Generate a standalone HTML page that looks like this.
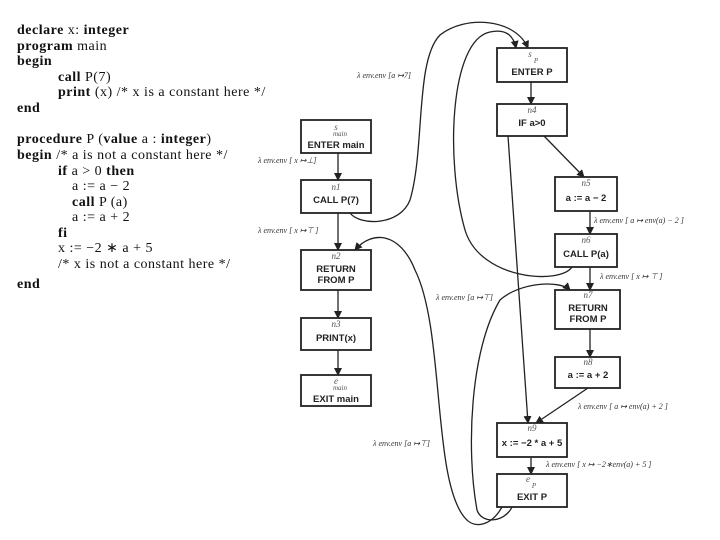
<!DOCTYPE html>
<html><head><meta charset="utf-8"><style>
html,body{margin:0;padding:0;background:#fff;}
svg{display:block}
.c{font-family:"Liberation Serif",serif;font-size:14px;letter-spacing:0.5px;fill:#111}
.b{font-weight:bold}
.n{font-family:"Liberation Sans",sans-serif;font-size:9.5px;font-weight:bold;fill:#222;text-anchor:middle}
.i{font-family:"Liberation Serif",serif;font-style:italic;font-size:9px;fill:#555;text-anchor:middle}
.l{font-family:"Liberation Serif",serif;font-size:8px;fill:#333}
rect{fill:#fff;stroke:#222;stroke-width:1.8}
.e{fill:none;stroke:#222;stroke-width:1.3}
</style></head><body>
<svg width="720" height="540" viewBox="0 0 720 540" xmlns="http://www.w3.org/2000/svg">
<defs><marker id="a" markerWidth="8" markerHeight="8" refX="7" refY="4" orient="auto" markerUnits="userSpaceOnUse"><path d="M0,0 L8,4 L0,8 z" fill="#222"/></marker></defs>
<g class="c">
<text x="17" y="34"><tspan class="b">declare</tspan> x: <tspan class="b">integer</tspan></text>
<text x="17" y="50"><tspan class="b">program</tspan> main</text>
<text x="17" y="65"><tspan class="b">begin</tspan></text>
<text x="58" y="81"><tspan class="b">call</tspan> P(7)</text>
<text x="58" y="96"><tspan class="b">print</tspan> (x) /* x is a constant here */</text>
<text x="17" y="112"><tspan class="b">end</tspan></text>
<text x="17" y="143"><tspan class="b">procedure</tspan> P (<tspan class="b">value</tspan> a : <tspan class="b">integer</tspan>)</text>
<text x="17" y="159"><tspan class="b">begin</tspan> /* a is not a constant here */</text>
<text x="58" y="175"><tspan class="b">if</tspan> a &gt; 0 <tspan class="b">then</tspan></text>
<text x="72" y="190">a := a − 2</text>
<text x="72" y="206"><tspan class="b">call</tspan> P (a)</text>
<text x="72" y="221">a := a + 2</text>
<text x="58" y="237"><tspan class="b">fi</tspan></text>
<text x="58" y="252">x := −2 ∗ a + 5</text>
<text x="58" y="268">/* x is not a constant here */</text>
<text x="17" y="288"><tspan class="b">end</tspan></text>
</g>
<g class="e">
<line x1="338" y1="153" x2="338" y2="180" marker-end="url(#a)"/>
<line x1="338" y1="213" x2="338" y2="250" marker-end="url(#a)"/>
<line x1="338" y1="290" x2="338" y2="318" marker-end="url(#a)"/>
<line x1="338" y1="350" x2="338" y2="375" marker-end="url(#a)"/>
<line x1="531" y1="82" x2="531" y2="104" marker-end="url(#a)"/>
<line x1="544" y1="136" x2="584" y2="177" marker-end="url(#a)"/>
<line x1="590" y1="211" x2="590" y2="234" marker-end="url(#a)"/>
<line x1="590" y1="267" x2="590" y2="290" marker-end="url(#a)"/>
<line x1="590" y1="329" x2="590" y2="357" marker-end="url(#a)"/>
<line x1="588" y1="388" x2="536" y2="423" marker-end="url(#a)"/>
<line x1="508" y1="136" x2="528" y2="423" marker-end="url(#a)"/>
<line x1="531" y1="457" x2="531" y2="474" marker-end="url(#a)"/>
<path d="M350,213 C360,226 400,226 410,200 C425,150 415,60 440,35 C465,15 515,18 528,48" marker-end="url(#a)"/>
<path d="M572,267 C560,285 480,280 465,230 C445,160 450,40 490,32 C508,28 514,38 516,48" marker-end="url(#a)"/>
<path d="M502,507 C492,525 475,530 465,518 C432,480 445,330 415,270 C400,232 372,230 355,250" marker-end="url(#a)"/>
<path d="M512,507 C505,522 482,525 477,510 C466,450 470,350 500,300 C520,282 560,280 570,290" marker-end="url(#a)"/>
</g>
<rect x="301" y="120" width="70" height="33"/><text class="i" x="336" y="130">s</text><text class="i" x="340" y="136" style="font-size:7px">main</text><text class="n" x="336" y="148">ENTER main</text>
<rect x="301" y="180" width="70" height="33"/><text class="i" x="336" y="190">n1</text><text class="n" x="336" y="203">CALL P(7)</text>
<rect x="301" y="250" width="70" height="40"/><text class="i" x="336" y="259">n2</text><text class="n" x="336" y="272">RETURN</text><text class="n" x="336" y="283">FROM P</text>
<rect x="301" y="318" width="70" height="32"/><text class="i" x="336" y="327">n3</text><text class="n" x="336" y="341">PRINT(x)</text>
<rect x="301" y="375" width="70" height="31"/><text class="i" x="336" y="384">e</text><text class="i" x="340" y="390" style="font-size:7px">main</text><text class="n" x="336" y="402">EXIT main</text>
<rect x="497" y="48" width="70" height="34"/><text class="i" x="530" y="57">s</text><text class="i" x="536" y="63" style="font-size:7px">P</text><text class="n" x="532" y="75">ENTER P</text>
<rect x="497" y="104" width="70" height="32"/><text class="i" x="532" y="113">n4</text><text class="n" x="532" y="126">IF a&gt;0</text>
<rect x="555" y="177" width="62" height="34"/><text class="i" x="586" y="186">n5</text><text class="n" x="586" y="201">a := a − 2</text>
<rect x="555" y="234" width="62" height="33"/><text class="i" x="586" y="243">n6</text><text class="n" x="586" y="257">CALL P(a)</text>
<rect x="555" y="290" width="65" height="39"/><text class="i" x="588" y="298">n7</text><text class="n" x="588" y="311">RETURN</text><text class="n" x="588" y="322">FROM P</text>
<rect x="555" y="357" width="65" height="31"/><text class="i" x="588" y="365">n8</text><text class="n" x="588" y="378">a := a + 2</text>
<rect x="497" y="423" width="70" height="34"/><text class="i" x="532" y="431">n9</text><text class="n" x="532" y="446">x := −2 * a + 5</text>
<rect x="497" y="474" width="70" height="33"/><text class="i" x="528" y="482">e</text><text class="i" x="534" y="488" style="font-size:7px">P</text><text class="n" x="532" y="500">EXIT P</text>
<g class="l" font-style="italic">
<text x="357" y="78">λ env.env [a ↦7]</text>
<text x="258" y="163">λ env.env [ x ↦⊥]</text>
<text x="258" y="233">λ env.env [ x ↦⊤ ]</text>
<text x="436" y="300">λ env.env [a ↦⊤]</text>
<text x="594" y="223">λ env.env [ a ↦ env(a) − 2 ]</text>
<text x="600" y="279">λ env.env [ x ↦ ⊤ ]</text>
<text x="578" y="409">λ env.env [ a ↦ env(a) + 2 ]</text>
<text x="373" y="446">λ env.env [a ↦⊤]</text>
<text x="546" y="467">λ env.env [ x ↦ −2∗env(a) + 5 ]</text>
</g>
</svg>
</body></html>
